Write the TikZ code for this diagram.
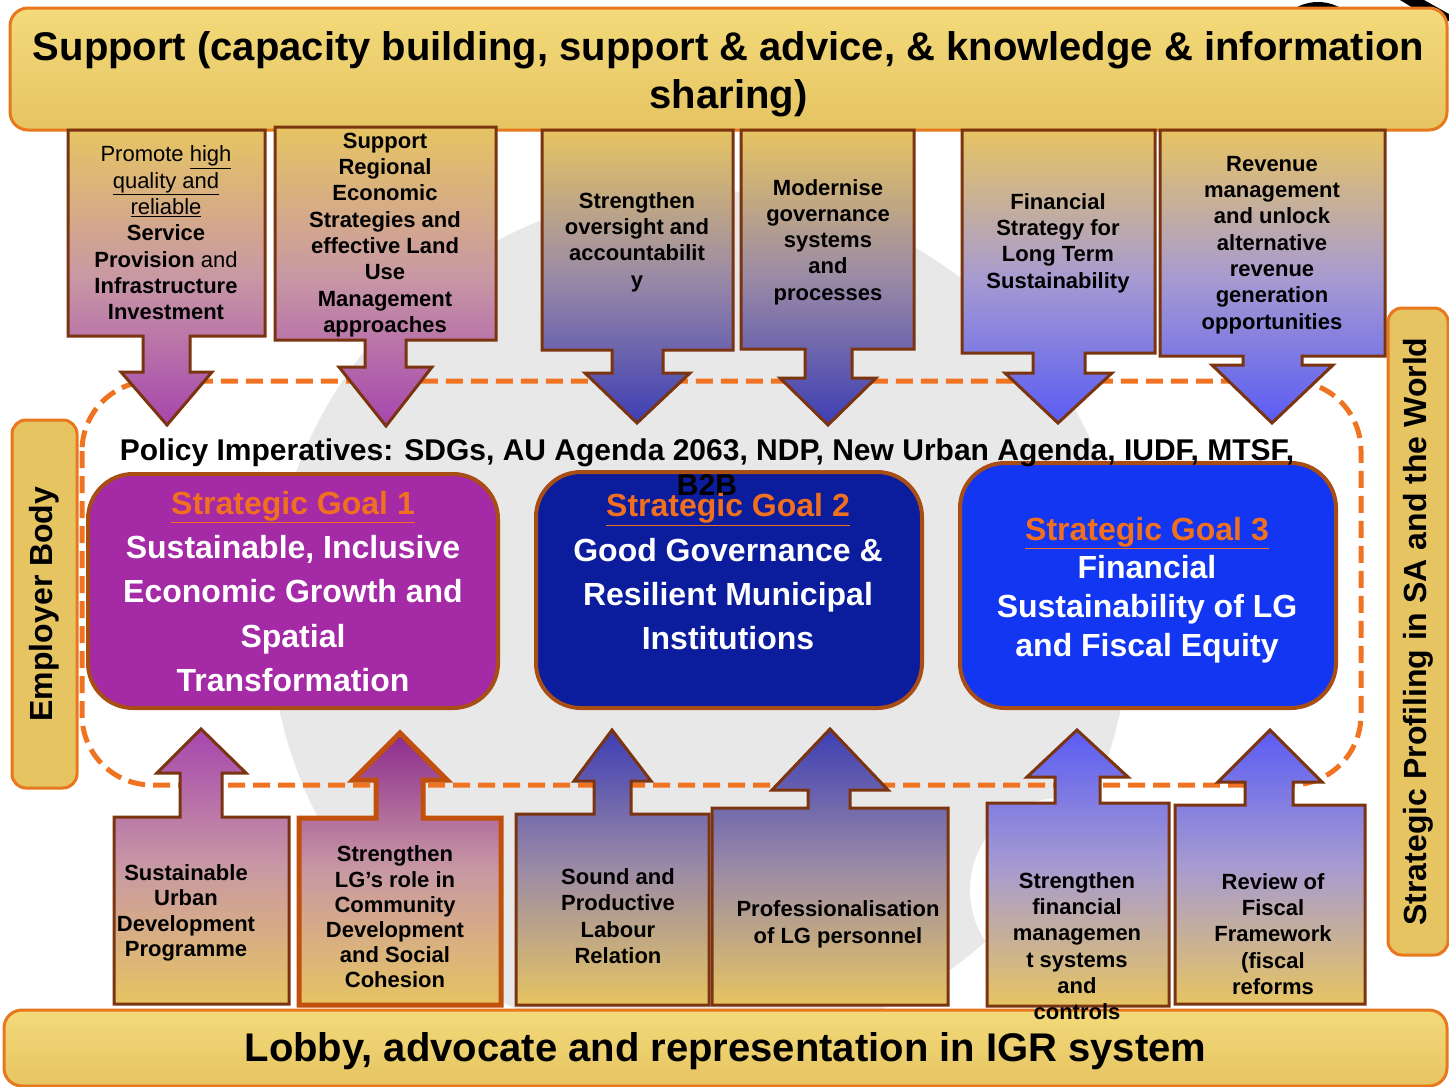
\documentclass[tikz,border=0pt]{standalone}
\usepackage{fontspec}
\setmainfont{Liberation Sans}
\usetikzlibrary{positioning,calc}

\definecolor{barGold}{HTML}{E6C462}
\definecolor{barLight}{HTML}{F3DA7A}
\definecolor{barEdge}{HTML}{E8781E}
\definecolor{boxEdge}{HTML}{7A3410}
\definecolor{dashOrange}{HTML}{F07322}
\definecolor{goalOrange}{HTML}{F07020}
\definecolor{goalEdge}{HTML}{A84E14}
\definecolor{sgPurple}{HTML}{A42AA6}
\definecolor{sgNavy}{HTML}{0B1C9C}
\definecolor{sgBlue}{HTML}{1236F2}
\definecolor{arPurple}{HTML}{A646AE}
\definecolor{arMauve}{HTML}{C898A4}
\definecolor{arIndigo}{HTML}{3E3EB4}
\definecolor{arDusk}{HTML}{9A8AA6}
\definecolor{arViolet}{HTML}{5A5CF4}
\definecolor{arLilac}{HTML}{A79BD0}
\definecolor{lgEdge}{HTML}{C0500C}
\definecolor{lgPurple}{HTML}{8C2A8E}
\definecolor{bgGrey}{HTML}{E8E8E8}

\tikzset{
  barbox/.style={draw=barEdge, line width=3pt, rounded corners=18pt,
    top color=barLight, bottom color=barGold, inner sep=0pt},
  bartext/.style={inner sep=0pt, align=center, font=\fontsize{40}{48}\selectfont\bfseries},
  sidebar/.style={draw=barEdge, line width=3pt, rounded corners=14pt,
    fill=barGold, inner sep=0pt, rotate=90,
    font=\fontsize{32}{38}\selectfont\bfseries},
  blockarrow/.style={draw=boxEdge, line width=3pt, line join=miter},
  dnpurple/.style={blockarrow, top color=barGold, bottom color=arPurple, middle color=arMauve},
  dnindigo/.style={blockarrow, top color=barGold, bottom color=arIndigo, middle color=arDusk},
  dnviolet/.style={blockarrow, top color=barGold, bottom color=arViolet, middle color=arLilac},
  uppurple/.style={blockarrow, top color=arPurple, bottom color=barGold, middle color=arMauve},
  upindigo/.style={blockarrow, top color=arIndigo, bottom color=barGold, middle color=arDusk},
  upviolet/.style={blockarrow, top color=arViolet, bottom color=barGold, middle color=arLilac},
  boxtext/.style={font=\fontsize{22}{26.3}\selectfont\bfseries, align=center, inner sep=0pt},
  goalbox/.style={draw=goalEdge, line width=4pt, rounded corners=45pt, inner sep=0pt},
  goaltext/.style={font=\fontsize{32}{44.3}\selectfont\bfseries, text=white, align=center, inner sep=0pt},
}
\newcommand{\goaltitle}[1]{\textcolor{goalOrange}{\underline{#1}}}

\begin{document}
\begin{tikzpicture}[x=1pt,y=-1pt]
  \useasboundingbox (0,0) rectangle (1449,1087);
  \fill[white] (0,0) rectangle (1449,1087);

  % background disc
  \fill[bgGrey] (700,620) circle[radius=430pt];
  \fill[white] (1062,890) circle[radius=92pt];

  % logo fragment above the top bar
  \begin{scope}
    \clip (1260,0) rectangle (1449,20);
    \fill[black] (1318,48) circle[radius=46pt];
    \fill[dashOrange] (1310,42) circle[radius=30pt];
    \fill[black] (1400,0) -- (1424,0) -- (1449,14) -- (1449,30) -- cycle;
  \end{scope}

  % dashed frame
  \draw[dashOrange, line width=5pt, dash pattern=on 17pt off 8pt, rounded corners=70pt]
    (82,381) rectangle (1361,785);

  % top and bottom bars
  \node[barbox, minimum width=1437pt, minimum height=122pt] (support) at (728.5,69) {};
  \node[bartext] (supporttxt) at (728.5,74)
    {Support (capacity building, support \& advice, \& knowledge \& information\\ sharing)};
  \node[barbox, minimum width=1443pt, minimum height=76pt] (lobby) at (725.5,1048) {};
  \node[bartext] (lobbytxt) at (725.5,1051) {Lobby, advocate and representation in IGR system};

  % side bars
  \node[sidebar, minimum width=368pt, minimum height=65pt] (employer) at (44.5,604) {Employer Body};
  \node[sidebar, minimum width=647pt, minimum height=60pt] (profiling) at (1418,631.5)
    {Strategic Profiling in SA and the World};

  % support boxes with down arrows
  \path[dnpurple] (68,130) -- (265,130) -- (265,336) -- (190,336) -- (190,372) -- (212,372)
    -- (167,425) -- (121,372) -- (143,372) -- (143,336) -- (68,336) -- cycle;
  \path[dnpurple] (275,127) -- (496,127) -- (496,340) -- (406,340) -- (406,367) -- (432,367)
    -- (386,426) -- (339,367) -- (365,367) -- (365,340) -- (275,340) -- cycle;
  \path[dnindigo] (542,130) -- (733,130) -- (733,350) -- (663,350) -- (663,373) -- (690,373)
    -- (637,423) -- (585,373) -- (612,373) -- (612,350) -- (542,350) -- cycle;
  \path[dnindigo] (741,130) -- (914,130) -- (914,349) -- (852,349) -- (852,378) -- (876,378)
    -- (828,425) -- (780,378) -- (805,378) -- (805,349) -- (741,349) -- cycle;
  \path[dnviolet] (962,130) -- (1155,130) -- (1155,353) -- (1085,353) -- (1085,373) -- (1112,373)
    -- (1058,423) -- (1005,373) -- (1033,373) -- (1033,353) -- (962,353) -- cycle;
  \path[dnviolet] (1160,130) -- (1385,130) -- (1385,356) -- (1302,356) -- (1302,365) -- (1333,365)
    -- (1272,423) -- (1212,365) -- (1243,365) -- (1243,356) -- (1160,356) -- cycle;

  % lobby boxes with up arrows
  \path[uppurple] (114,1004) -- (114,817) -- (180,817) -- (180,773) -- (157,773) -- (201,729)
    -- (246,773) -- (222,773) -- (222,817) -- (289,817) -- (289,1004) -- cycle;
  \path[blockarrow, draw=lgEdge, line width=5pt, top color=lgPurple, bottom color=barGold, middle color=arMauve]
    (299,1005) -- (299,818) -- (376,818) -- (376,780) -- (353,780) -- (400,733)
    -- (447,780) -- (423,780) -- (423,818) -- (501,818) -- (501,1005) -- cycle;
  \path[upindigo] (516,1005) -- (516,814) -- (594,814) -- (594,781) -- (574,781) -- (612,730)
    -- (651,781) -- (631,781) -- (631,814) -- (709,814) -- (709,1005) -- cycle;
  \path[upindigo] (712,1005) -- (712,808) -- (808,808) -- (808,790) -- (772,790) -- (830,729)
    -- (888,790) -- (850,790) -- (850,808) -- (948,808) -- (948,1005) -- cycle;
  \path[upviolet] (987,1006) -- (987,803) -- (1055,803) -- (1055,777) -- (1027,777) -- (1077,730)
    -- (1128,777) -- (1100,777) -- (1100,803) -- (1169,803) -- (1169,1006) -- cycle;
  \path[upviolet] (1175,1004) -- (1175,805) -- (1245,805) -- (1245,782) -- (1218,782) -- (1270,730)
    -- (1322,782) -- (1293,782) -- (1293,805) -- (1365,805) -- (1365,1004) -- cycle;

  % strategic goals
  \node[goalbox, fill=sgPurple, minimum width=410pt, minimum height=234pt] (goal1) at (293,591) {};
  \node[goalbox, fill=sgNavy, minimum width=386pt, minimum height=236pt] (goal2) at (729,590) {};
  \node[goalbox, fill=sgBlue, minimum width=376pt, minimum height=245pt] (goal3) at (1148,585.5) {};

  \node[font=\fontsize{30}{35}\selectfont\bfseries, align=center, inner sep=0pt] (policy) at (707,467)
    {Policy Imperatives: SDGs, AU Agenda 2063, NDP, New Urban Agenda, IUDF, MTSF,\\ B2B};

  \node[goaltext] (goal1txt) at (293,591.5) {\goaltitle{Strategic Goal 1}\\ Sustainable, Inclusive\\
    Economic Growth and\\ Spatial\\ Transformation};
  \node[goaltext] (goal2txt) at (728,572) {\goaltitle{Strategic Goal 2}\\ Good Governance \&\\
    Resilient Municipal\\ Institutions};
  \node[goaltext, font=\fontsize{32}{38.7}\selectfont\bfseries] (goal3txt) at (1147,590)
    {\goaltitle{Strategic Goal 3}\\ Financial\\ Sustainability of LG\\ and Fiscal Equity};

  % texts in the support boxes
  \node[boxtext] (sup1) at (166,233) {{\mdseries Promote \underline{high}}\\ {\mdseries\underline{quality and}}\\
    {\mdseries\underline{reliable}}\\ Service\\ Provision {\mdseries and}\\ Infrastructure\\ Investment};
  \node[boxtext] (sup2) at (385,235) {Support\\ Regional\\ Economic\\ Strategies and\\ effective Land\\
    Use\\ Management\\ approaches};
  \node[boxtext] (sup3) at (637,242) {Strengthen\\ oversight and\\ accountabilit\\ y};
  \node[boxtext] (sup4) at (828,242) {Modernise\\ governance\\ systems\\ and\\ processes};
  \node[boxtext] (sup5) at (1058,243) {Financial\\ Strategy for\\ Long Term\\ Sustainability};
  \node[boxtext] (sup6) at (1272,245) {Revenue\\ management\\ and unlock\\ alternative\\ revenue\\
    generation\\ opportunities};

  % texts in the lobby boxes
  \node[boxtext, font=\fontsize{22}{25.5}\selectfont\bfseries] (lob1) at (186,913)
    {Sustainable\\ Urban\\ Development\\ Programme};
  \node[boxtext, font=\fontsize{22}{25.2}\selectfont\bfseries] (lob2) at (395,917)
    {Strengthen\\ LG’s role in\\ Community\\ Development\\ and Social\\ Cohesion};
  \node[boxtext] (lob3) at (618,916) {Sound and\\ Productive\\ Labour\\ Relation};
  \node[boxtext, font=\fontsize{22}{27}\selectfont\bfseries] (lob4) at (838,924)
    {Professionalisation\\ of LG personnel};
  \node[boxtext] (lob5) at (1077,946) {Strengthen\\ financial\\ managemen\\ t systems\\ and\\ controls};
  \node[boxtext] (lob6) at (1273,934) {Review of\\ Fiscal\\ Framework\\ (fiscal\\ reforms};
\end{tikzpicture}
\end{document}
